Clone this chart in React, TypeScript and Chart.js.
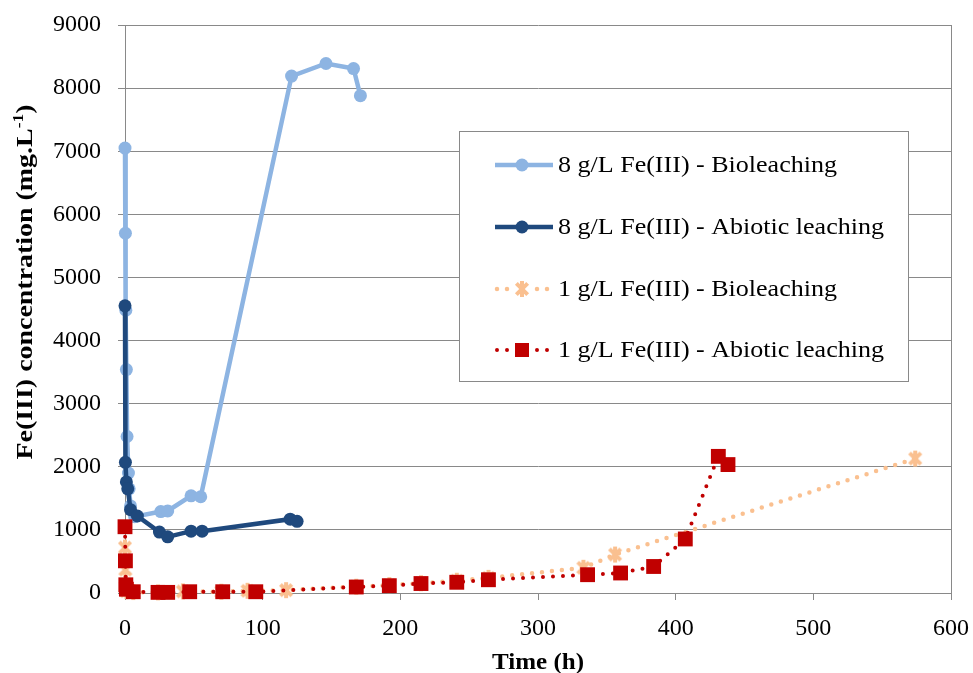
import React, { useEffect, useRef } from 'react';
import { Chart, registerables } from 'chart.js';

Chart.register(...registerables);

// ---------- DATA ----------
const seriesNames = [
  '8 g/L Fe(III) - Bioleaching',
  '8 g/L Fe(III) - Abiotic leaching',
  '1 g/L Fe(III) - Bioleaching',
  '1 g/L Fe(III) - Abiotic leaching',
];

// 8 g/L Fe(III) - Bioleaching
const bio8Time = [0, 0.3, 0.6, 1, 1.5, 2.5, 3, 4, 7, 26, 31, 48, 55, 121, 146, 166, 171];
const bio8Fe = [7050, 5700, 4480, 3540, 2480, 1900, 1650, 1380, 1210, 1290, 1300, 1540, 1525, 8190, 8390, 8310, 7880];

// 8 g/L Fe(III) - Abiotic leaching
const abio8Time = [0, 0.3, 1, 2, 4, 9, 25, 31, 48, 56, 120, 125];
const abio8Fe = [4550, 2070, 1760, 1650, 1320, 1220, 965, 890, 980, 980, 1170, 1135];

// 1 g/L Fe(III) - Bioleaching
const bio1Time = [0, 0.3, 0.6, 1, 6, 24, 42, 70, 89, 117, 168, 192, 215, 241, 264, 333, 356, 574];
const bio1Fe = [720, 370, 100, 30, 15, 10, 25, 20, 35, 45, 100, 125, 155, 195, 240, 400, 610, 2130];

// 1 g/L Fe(III) - Abiotic leaching
const abio1Time = [0, 0.3, 0.6, 1, 6, 24, 31, 47, 71, 95, 168, 192, 215, 241, 264, 336, 360, 384, 407, 431, 438];
const abio1Fe = [1050, 510, 130, 60, 20, 10, 10, 20, 20, 20, 95, 116, 150, 170, 210, 290, 317, 420, 856, 2165, 2035];

const xMin = 0;
const xMax = 600;
const xStep = 100;
const yMin = 0;
const yMax = 9000;
const yStep = 1000;

const xTitle = 'Time (h)';
const yTitleMain = 'Fe(III) concentration (mg.L';
const yTitleSup = '-1';
const yTitleEnd = ')';

// ---------- STYLE ----------
const LIGHT_BLUE = '#8DB4E2';
const DARK_BLUE = '#1F497D';
const ORANGE = '#FAC090';
const RED = '#C00000';
const GRID = '#898989';
const FONT = "'Liberation Serif', 'Times New Roman', serif";

function makeAsterisk(color: string, size: number, lw: number): HTMLCanvasElement {
  const c = document.createElement('canvas');
  c.width = size;
  c.height = size;
  const g = c.getContext('2d')!;
  const r = size / 2 - lw / 2;
  const cx = size / 2;
  g.strokeStyle = color;
  g.lineWidth = lw;
  g.lineCap = 'butt';
  g.beginPath();
  g.moveTo(cx, cx - r);
  g.lineTo(cx, cx + r);
  const d = r * Math.SQRT1_2;
  g.moveTo(cx - d, cx - d);
  g.lineTo(cx + d, cx + d);
  g.moveTo(cx + d, cx - d);
  g.lineTo(cx - d, cx + d);
  g.stroke();
  return c;
}

const toPts = (t: number[], v: number[]) => t.map((x, i) => ({ x, y: v[i] }));

function fillStretched(ctx: CanvasRenderingContext2D, text: string, x: number, y: number, targetW: number) {
  const w = ctx.measureText(text).width;
  const s = targetW / w;
  ctx.save();
  ctx.translate(x, y);
  ctx.scale(s, 1);
  ctx.fillText(text, 0, 0);
  ctx.restore();
}

export default function App() {
  const ref = useRef<HTMLCanvasElement | null>(null);

  useEffect(() => {
    document.body.style.margin = '0';
    const canvas = ref.current;
    if (!canvas) return;
    const star = makeAsterisk(ORANGE, 20, 4);

    const legendPlugin = {
      id: 'customOverlay',
      afterDraw(chart: any) {
        const ctx: CanvasRenderingContext2D = chart.ctx;
        const area = chart.chartArea;
        ctx.save();

        // Legend box
        const bx = 459.5, by = 131.5, bw = 449, bh = 250;
        ctx.fillStyle = '#ffffff';
        ctx.fillRect(bx, by, bw, bh);
        ctx.strokeStyle = GRID;
        ctx.lineWidth = 1;
        ctx.strokeRect(bx, by, bw, bh);

        const rows = [165, 227, 289, 350];
        const textW = [279, 326, 279, 326];
        const entries = [
          { color: LIGHT_BLUE, dash: [] as number[], width: 4.5, marker: 'circle', r: 6.5 },
          { color: DARK_BLUE, dash: [] as number[], width: 4.5, marker: 'circle', r: 6.5 },
          { color: ORANGE, dash: [0, 10], width: 4.5, marker: 'star', r: 10 },
          { color: RED, dash: [0, 10], width: 4, marker: 'rect', r: 10 },
        ];
        entries.forEach((e, i) => {
          const y = rows[i];
          ctx.save();
          ctx.strokeStyle = e.color;
          ctx.lineWidth = e.width;
          if (e.dash.length) {
            ctx.setLineDash(e.dash);
            ctx.lineCap = 'round';
            ctx.beginPath();
            ctx.moveTo(497, y);
            ctx.lineTo(510, y);
            ctx.moveTo(537, y);
            ctx.lineTo(551, y);
            ctx.stroke();
          } else {
            ctx.lineCap = 'butt';
            ctx.beginPath();
            ctx.moveTo(495, y);
            ctx.lineTo(553, y);
            ctx.stroke();
          }
          ctx.restore();
          const mx = 522;
          ctx.fillStyle = e.color;
          if (e.marker === 'circle') {
            ctx.beginPath();
            ctx.arc(mx, y, e.r, 0, Math.PI * 2);
            ctx.fill();
          } else if (e.marker === 'rect') {
            ctx.fillRect(mx - 7, y - 7, 14, 14);
          } else {
            ctx.drawImage(star, mx - star.width / 2, y - star.height / 2);
          }
          ctx.fillStyle = '#000';
          ctx.font = `24px ${FONT}`;
          ctx.textBaseline = 'middle';
          ctx.textAlign = 'left';
          fillStretched(ctx, seriesNames[i], 558, y + 1, textW[i]);
        });

        // X title
        ctx.fillStyle = '#000';
        ctx.font = `bold 23px ${FONT}`;
        ctx.textAlign = 'left';
        ctx.textBaseline = 'middle';
        fillStretched(ctx, xTitle, (area.left + area.right) / 2 - 46, 663, 92);

        // Y title (rotated, with superscript)
        ctx.save();
        ctx.translate(26, 282);
        ctx.rotate(-Math.PI / 2);
        ctx.textAlign = 'left';
        ctx.textBaseline = 'middle';
        const mainFont = `bold 24px ${FONT}`;
        const supFont = `bold 15px ${FONT}`;
        ctx.font = mainFont;
        const w1 = ctx.measureText(yTitleMain).width;
        const w3 = ctx.measureText(yTitleEnd).width;
        ctx.font = supFont;
        const w2 = ctx.measureText(yTitleSup).width;
        const total = w1 + w2 + w3;
        const s = 355 / total;
        ctx.scale(s, 1);
        let x0 = -total / 2;
        ctx.font = mainFont;
        ctx.fillText(yTitleMain, x0, 0);
        x0 += w1;
        ctx.font = supFont;
        ctx.fillText(yTitleSup, x0, -7);
        x0 += w2;
        ctx.font = mainFont;
        ctx.fillText(yTitleEnd, x0, 0);
        ctx.restore();

        ctx.restore();
      },
    };

    const chart = new Chart(canvas, {
      type: 'line',
      data: {
        datasets: [
          {
            label: seriesNames[0],
            data: toPts(bio8Time, bio8Fe),
            borderColor: LIGHT_BLUE,
            backgroundColor: LIGHT_BLUE,
            borderWidth: 4.5,
            pointStyle: 'circle',
            pointRadius: 6.5,
            pointBorderWidth: 0,
            pointBackgroundColor: LIGHT_BLUE,
            clip: false,
            order: 4,
          },
          {
            label: seriesNames[1],
            data: toPts(abio8Time, abio8Fe),
            borderColor: DARK_BLUE,
            backgroundColor: DARK_BLUE,
            borderWidth: 4.5,
            pointStyle: 'circle',
            pointRadius: 6.5,
            pointBorderWidth: 0,
            pointBackgroundColor: DARK_BLUE,
            clip: false,
            order: 3,
          },
          {
            label: seriesNames[2],
            data: toPts(bio1Time, bio1Fe),
            borderColor: ORANGE,
            backgroundColor: ORANGE,
            borderWidth: 4.5,
            borderDash: [0, 10],
            borderCapStyle: 'round',
            pointStyle: star as any,
            pointRadius: 10,
            clip: false,
            order: 2,
          },
          {
            label: seriesNames[3],
            data: toPts(abio1Time, abio1Fe),
            borderColor: RED,
            backgroundColor: RED,
            borderWidth: 4,
            borderDash: [0, 10],
            borderCapStyle: 'round',
            pointStyle: 'rect',
            pointRadius: 10.5,
            pointBorderWidth: 0,
            pointBackgroundColor: RED,
            clip: false,
            order: 1,
          },
        ],
      },
      options: {
        responsive: false,
        animation: false,
        events: [],
        layout: { padding: { left: 0, right: 22, top: 25, bottom: 0 } },
        elements: { line: { tension: 0 } },
        plugins: {
          legend: { display: false },
          tooltip: { enabled: false },
          title: { display: false },
        },
        scales: {
          x: {
            type: 'linear',
            min: xMin,
            max: xMax,
            ticks: {
              stepSize: xStep,
              color: '#000',
              font: { family: FONT, size: 24 },
              padding: 14,
              maxRotation: 0,
              callback: (v: any) => String(v),
            },
            grid: {
              color: (c: any) => (c.tick && c.tick.value === xMax ? GRID : 'rgba(0,0,0,0)'),
              tickColor: GRID,
              tickLength: 7,
              lineWidth: 1,
            },
            border: { display: true, color: GRID, width: 1 },
            afterFit: (scale: any) => {
              scale.height = 80;
              scale.paddingLeft = 0;
              scale.paddingRight = 0;
            },
          },
          y: {
            type: 'linear',
            min: yMin,
            max: yMax,
            ticks: {
              stepSize: yStep,
              color: '#000',
              font: { family: FONT, size: 24 },
              padding: 17,
              callback: (v: any) => String(v),
            },
            grid: {
              color: GRID,
              tickColor: GRID,
              tickLength: 7,
              lineWidth: 1,
            },
            border: { display: true, color: GRID, width: 1 },
            afterFit: (scale: any) => {
              scale.width = 125;
              scale.paddingTop = 0;
              scale.paddingBottom = 0;
            },
          },
        },
      },
      plugins: [legendPlugin],
    } as any);

    return () => chart.destroy();
  }, []);

  return (
    <div style={{ width: 973, height: 673 }}>
      <canvas ref={ref} width={973} height={673} style={{ display: 'block', width: 973, height: 673 }} />
    </div>
  );
}
